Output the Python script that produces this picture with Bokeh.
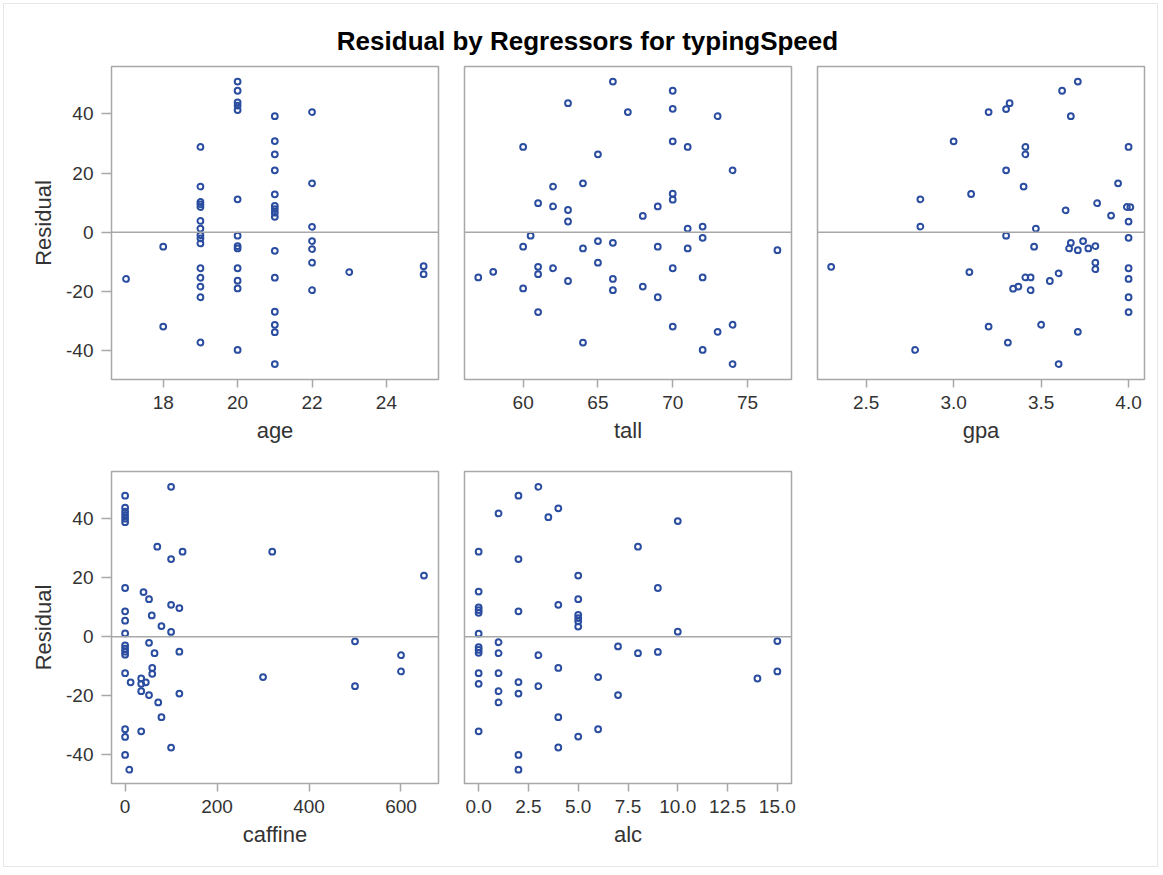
from bokeh.embed import file_html
from bokeh.resources import INLINE
from bokeh.layouts import column, row
from bokeh.models import Range1d, Span, FixedTicker, NumeralTickFormatter, Label
from bokeh.plotting import figure

title_text = "Residual by Regressors for typingSpeed"
y_label = "Residual"
y_ticks = [-40, -20, 0, 20, 40]

# age panel
age = [17, 18, 18,
       19, 19, 19, 19, 19, 19, 19, 19, 19, 19, 19, 19, 19, 19, 19,
       20, 20, 20, 20, 20, 20, 20, 20, 20, 20, 20, 20, 20,
       21, 21, 21, 21, 21, 21, 21, 21, 21, 21, 21, 21, 21, 21, 21,
       22, 22, 22, 22, 22, 22, 22, 23, 25, 25]
age_resid = [-15.8, -4.9, -31.9,
             28.8, 15.4, 10.2, 9.4, 8.5, 3.8, 1.2, -1.0, -2.1, -3.8, -12.2, -15.4, -18.4, -22.0, -37.3,
             50.9, 47.8, 43.9, 42.8, 41.3, 11.1, -1.2, -4.7, -5.5, -12.2, -16.4, -19.0, -39.8,
             39.2, 30.8, 26.3, 20.9, 12.8, 8.9, 7.8, 6.6, 5.2, -6.3, -15.4, -26.9, -31.3, -33.8, -44.6,
             40.6, 16.5, 1.8, -3.0, -5.7, -10.3, -19.6, -13.5, -11.5, -14.2]
age_ticks = [18, 20, 22, 24]

# tall panel
tall = [66, 70, 63, 67, 70, 73, 60, 70, 71, 65, 74, 62, 64, 61, 62, 63, 63, 68, 69, 70,
        70, 71, 72, 72, 60.5, 60, 64, 65, 66, 69, 71, 77, 57, 58, 61, 61, 62, 60, 63, 65,
        66, 66, 68, 69, 70, 72, 61, 64, 70, 73, 74, 72, 74]
tall_resid = [50.9, 47.8, 43.6, 40.6, 41.7, 39.2, 28.8, 30.7, 28.8, 26.3, 20.9, 15.4, 16.5, 9.8, 8.7, 7.5, 3.6, 5.5, 8.7, 13.0,
              11.0, 1.2, 1.9, -1.9, -1.2, -4.9, -5.5, -3.0, -3.6, -4.9, -5.5, -6.1, -15.3, -13.4, -11.7, -14.2, -12.2, -19.0, -16.5, -10.3,
              -15.8, -19.6, -18.4, -22.0, -12.2, -15.3, -27.0, -37.3, -31.9, -33.7, -31.3, -39.8, -44.6]
tall_ticks = [60, 65, 70, 75]

# gpa panel
gpa = [2.30, 2.78, 2.81, 2.81, 3.00, 3.09, 3.10, 3.20, 3.20, 3.30, 3.32, 3.30, 3.30, 3.31,
       3.34, 3.37, 3.41, 3.41, 3.40, 3.41, 3.44, 3.44, 3.47, 3.46, 3.50, 3.55, 3.60, 3.60,
       3.62, 3.64, 3.67, 3.71, 3.67, 3.66, 3.71, 3.71, 3.74, 3.77, 3.81, 3.82, 3.81, 3.81,
       3.90, 3.94, 4.00, 3.99, 4.01, 4.00, 4.00, 4.00, 4.00, 4.00, 4.00]
gpa_resid = [-11.7, -39.8, 11.1, 1.9, 30.7, -13.5, 12.9, 40.6, -31.9, 41.6, 43.6, 20.9, -1.2, -37.3,
             -19.1, -18.4, 28.8, 26.3, 15.4, -15.3, -15.3, -19.6, 1.2, -4.9, -31.3, -16.5, -13.9, -44.6,
             47.8, 7.4, 39.2, 50.9, -3.6, -5.5, -6.1, -33.7, -3.0, -5.5, -4.7, 9.8, -10.3, -12.5,
             5.6, 16.5, 28.8, 8.5, 8.5, 3.6, -1.9, -12.2, -15.8, -22.0, -27.0]
gpa_ticks = [2.5, 3.0, 3.5, 4.0]

# caffine panel
caffine = [100, 0, 0, 0, 0, 0, 0, 70, 125, 100, 320, 650, 0, 40, 52, 100, 118, 0, 0, 58,
           79, 100, 0, 52, 0, 0, 0, 0, 64, 118, 59, 59, 0, 12, 35, 35, 45, 35, 52, 118,
           72, 79, 300, 500, 500, 600, 600, 0, 0, 35, 100, 0, 9]
caffine_resid = [50.8, 47.8, 43.7, 42.4, 41.2, 40.0, 38.8, 30.5, 28.8, 26.3, 28.8, 20.7, 16.5, 15.1, 12.7, 10.8, 9.7, 8.6, 5.4, 7.2,
                 3.6, 1.6, 1.1, -2.1, -3.0, -4.1, -5.1, -6.1, -5.6, -5.1, -10.6, -12.6, -12.4, -15.5, -14.2, -16.0, -15.5, -18.5, -19.8, -19.3,
                 -22.3, -27.3, -13.7, -1.6, -16.8, -6.3, -11.8, -31.4, -34.0, -32.1, -37.6, -40.1, -45.1]
caffine_ticks = [0, 200, 400, 600]

# alc panel
alc = [3, 2, 1, 4, 3.5, 10, 0, 8, 2, 5, 9, 0, 5, 4, 0, 0, 0, 2, 5, 5,
       5, 5, 0, 10, 1, 0, 0, 0, 1, 3, 7, 8, 9, 15, 0, 0, 1, 4, 6, 2,
       2, 3, 1, 1, 7, 14, 15, 4, 0, 5, 6, 4, 2, 2]
alc_resid = [50.8, 47.8, 41.8, 43.5, 40.5, 39.2, 28.8, 30.5, 26.3, 20.7, 16.5, 15.3, 12.7, 10.8, 9.9, 9.0, 8.1, 8.6, 7.4, 6.3,
             5.2, 3.4, 1.0, 1.7, -1.9, -3.6, -4.5, -5.5, -5.6, -6.3, -3.3, -5.6, -5.2, -1.5, -12.4, -16.0, -12.4, -10.6, -13.7, -15.4,
             -19.3, -16.8, -18.5, -22.3, -19.8, -14.2, -11.8, -27.3, -32.1, -33.9, -31.4, -37.6, -40.1, -45.1]
alc_ticks = [0, 2.5, 5, 7.5, 10, 12.5, 15]

FONT = "Liberation Sans"
MARK = "#2B4DA0"
FRAME = "#A8A8A8"
TEXT = "#333333"


def resid_panel(xs, ys, xlab, x_range, ticks, fmt, first_col, top_row, right=13, bottom=None):
    if bottom is None:
        bottom = 83 if top_row else 84
    p = figure(frame_width=327, frame_height=313 if top_row else 312,
               x_range=Range1d(*x_range), y_range=Range1d(-49.8, 56.0),
               output_backend="svg", toolbar_location=None, title=None,
               min_border_left=111 if first_col else 13, min_border_right=right,
               min_border_top=8 if top_row else 9, min_border_bottom=bottom,
               background_fill_color="white", border_fill_alpha=0,
               outline_line_color=FRAME, outline_line_width=1.5)
    p.grid.visible = False
    p.add_layout(Span(location=0, dimension="width", line_color=FRAME, line_width=1.5))
    p.scatter(xs, ys, marker="circle", size=5.8, fill_color=None, line_color=MARK, line_width=2)

    p.xaxis.ticker = FixedTicker(ticks=ticks)
    p.xaxis.formatter = NumeralTickFormatter(format=fmt or "0")
    p.xaxis.axis_label = xlab
    p.xaxis.major_tick_out = 8
    p.xaxis.major_label_standoff = 8
    p.xaxis.axis_label_standoff = 6

    if first_col:
        p.yaxis.ticker = FixedTicker(ticks=y_ticks)
        p.yaxis.formatter = NumeralTickFormatter(format="0")
        p.yaxis.axis_label = y_label
        p.yaxis.major_tick_out = 10
        p.yaxis.major_label_standoff = 8
        p.yaxis.axis_label_standoff = 7
    else:
        p.yaxis.visible = False

    for ax in p.axis:
        ax.axis_line_color = None
        ax.major_tick_in = 0
        ax.major_tick_line_color = FRAME
        ax.major_tick_line_width = 1.5
        ax.minor_tick_line_color = None
        ax.major_label_text_font = FONT
        ax.major_label_text_font_size = "19px"
        ax.major_label_text_color = TEXT
        ax.axis_label_text_font = FONT
        ax.axis_label_text_font_size = "22px"
        ax.axis_label_text_font_style = "normal"
        ax.axis_label_text_color = TEXT
    return p


header = figure(frame_width=1161, frame_height=58, x_range=Range1d(0, 1161), y_range=Range1d(0, 58),
                output_backend="svg", toolbar_location=None, title=None, min_border=0,
                outline_line_color=None, border_fill_alpha=0, background_fill_alpha=0)
header.axis.visible = False
header.grid.visible = False
header.add_layout(Label(x=587, y=17.5, text=title_text, text_align="center", text_baseline="middle",
                        text_font=FONT, text_font_style="bold", text_font_size="26px", text_color="black"))

p_age = resid_panel(age, age_resid, "age", (16.61, 25.4), age_ticks, None, True, True)
p_tall = resid_panel(tall, tall_resid, "tall", (56.08, 77.94), tall_ticks, None, False, True)
p_gpa = resid_panel(gpa, gpa_resid, "gpa", (2.222, 4.091), gpa_ticks, "0.0", False, True, right=17)
p_caf = resid_panel(caffine, caffine_resid, "caffine", (-29.6, 681.6), caffine_ticks, None, True, False, bottom=87)
p_alc = resid_panel(alc, alc_resid, "alc", (-0.71, 15.71), alc_ticks, "0.0", False, False, bottom=87)

page = column(header, row(p_age, p_tall, p_gpa), row(p_caf, p_alc),
              styles={"outline": "1px solid #e6e6e6", "outline-offset": "-4px"})

open("out.html", "w").write(file_html(page, INLINE))
